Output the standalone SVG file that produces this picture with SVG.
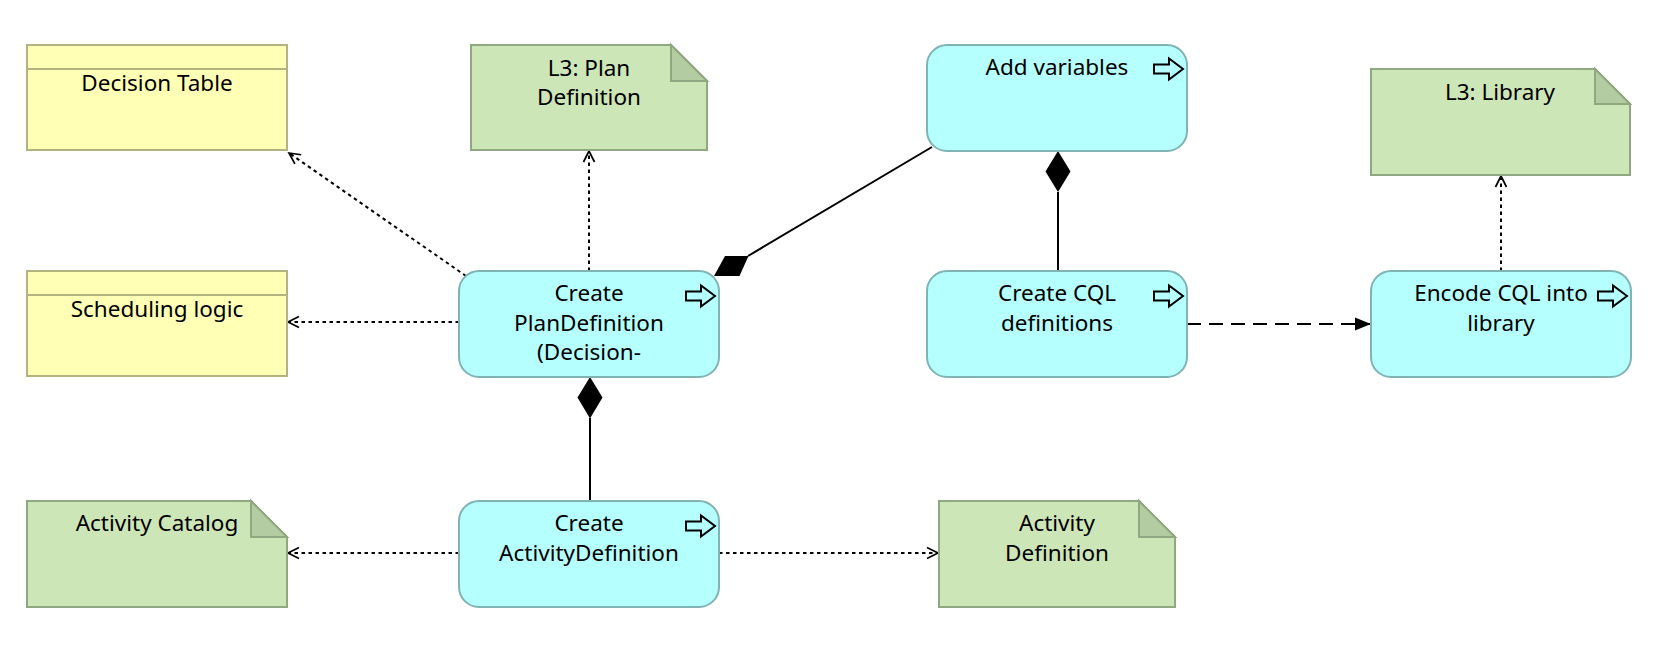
<svg xmlns="http://www.w3.org/2000/svg" width="1674" height="646" viewBox="0 0 1674 646">
<defs>
<style>
.proc{fill:#B5FFFF;stroke:#80B3B3;stroke-width:2}
.note{fill:#CCE6B8;stroke:#8FA87F;stroke-width:2}
.fold{fill:#B3CCA1;stroke:#8FA87F;stroke-width:2}
.obj{fill:#FFFFB5;stroke:#B3B37F;stroke-width:2}
.icon{fill:none;stroke:#000;stroke-width:2}
text{font-family:"Noto Sans","Open Sans","DejaVu Sans",sans-serif;font-size:22.5px;fill:#000;text-anchor:middle}
.dot{fill:none;stroke:#000;stroke-width:2;stroke-dasharray:3.5 3.5}
.dash{fill:none;stroke:#000;stroke-width:2;stroke-dasharray:14 8}
.solid{fill:none;stroke:#000;stroke-width:2}
.dia{fill:#000;stroke:none}
</style>
<marker id="open" markerUnits="userSpaceOnUse" markerWidth="16" markerHeight="16" viewBox="-12 -8 14 16" refX="0" refY="0" orient="auto">
<path d="M-11,-5.5 L0,0 L-11,5.5" fill="none" stroke="#000" stroke-width="1.7"/>
</marker>
<marker id="filled" markerUnits="userSpaceOnUse" markerWidth="20" markerHeight="16" viewBox="-17 -8 18 16" refX="0" refY="0" orient="auto">
<path d="M-16,-6.5 L0,0 L-16,6.5 Z" fill="#000"/>
</marker>
<path id="runicon" d="M0,-4.5 L15,-4.5 L15,-10.5 L29,0 L15,10.5 L15,4.5 L0,4.5 Z"/>
</defs>

<g id="connectors">
<line class="dot" x1="466" y1="276" x2="289" y2="153" marker-end="url(#open)"/>
<line class="dot" x1="589" y1="271" x2="589" y2="151" marker-end="url(#open)"/>
<line class="dot" x1="459" y1="322" x2="288" y2="322" marker-end="url(#open)"/>
<line class="solid" x1="932" y1="147" x2="748" y2="256"/>
<polygon class="dia" points="748.5,256 725,256 714,276 739.5,276"/>
<line class="solid" x1="1058" y1="271" x2="1058" y2="192"/>
<polygon class="dia" points="1058,151 1070.5,171.5 1058,192 1045.5,171.5"/>
<line class="solid" x1="590" y1="501" x2="590" y2="418"/>
<polygon class="dia" points="590,377 602.5,397.5 590,418.5 577.5,397.5"/>
<line class="dot" x1="459" y1="553" x2="288" y2="553" marker-end="url(#open)"/>
<line class="dot" x1="719" y1="553" x2="938" y2="553" marker-end="url(#open)"/>
<line class="dash" x1="1187" y1="324" x2="1371" y2="324" marker-end="url(#filled)"/>
<line class="dot" x1="1501" y1="271" x2="1501" y2="176" marker-end="url(#open)"/>
</g>

<g id="decision-table">
<rect class="obj" x="27" y="45" width="260" height="105"/>
<line x1="27" y1="69" x2="287" y2="69" stroke="#B3B37F" stroke-width="2"/>
<text x="157" y="91">Decision Table</text>
</g>

<g id="scheduling-logic">
<rect class="obj" x="27" y="271" width="260" height="105"/>
<line x1="27" y1="295" x2="287" y2="295" stroke="#B3B37F" stroke-width="2"/>
<text x="157" y="317">Scheduling logic</text>
</g>

<g id="l3-plan-definition">
<path class="note" d="M471,45 H671 L707,81 V150 H471 Z"/>
<path class="fold" d="M671,45 V81 H707 Z"/>
<text x="589" y="76">L3: Plan</text>
<text x="589" y="105">Definition</text>
</g>

<g id="add-variables">
<rect class="proc" x="927" y="45" width="260" height="106" rx="20"/>
<use href="#runicon" class="icon" x="1154" y="69"/>
<text x="1057" y="75">Add variables</text>
</g>

<g id="l3-library">
<path class="note" d="M1371,69 H1595 L1630,104 V175 H1371 Z"/>
<path class="fold" d="M1595,69 V104 H1630 Z"/>
<text x="1500" y="100">L3: Library</text>
</g>

<g id="create-plandefinition">
<rect class="proc" x="459" y="271" width="260" height="106" rx="20"/>
<use href="#runicon" class="icon" x="686" y="296"/>
<text x="589" y="301">Create</text>
<text x="589" y="331">PlanDefinition</text>
<text x="589" y="360">(Decision-</text>
</g>

<g id="create-cql-definitions">
<rect class="proc" x="927" y="271" width="260" height="106" rx="20"/>
<use href="#runicon" class="icon" x="1154" y="296"/>
<text x="1057" y="301">Create CQL</text>
<text x="1057" y="331">definitions</text>
</g>

<g id="encode-cql">
<rect class="proc" x="1371" y="271" width="260" height="106" rx="20"/>
<use href="#runicon" class="icon" x="1598" y="296"/>
<text x="1501" y="301">Encode CQL into</text>
<text x="1501" y="331">library</text>
</g>

<g id="activity-catalog">
<path class="note" d="M27,501 H251 L287,537 V607 H27 Z"/>
<path class="fold" d="M251,501 V537 H287 Z"/>
<text x="157" y="531">Activity Catalog</text>
</g>

<g id="create-activitydefinition">
<rect class="proc" x="459" y="501" width="260" height="106" rx="20"/>
<use href="#runicon" class="icon" x="686" y="526"/>
<text x="589" y="531">Create</text>
<text x="589" y="561">ActivityDefinition</text>
</g>

<g id="activity-definition">
<path class="note" d="M939,501 H1139 L1175,537 V607 H939 Z"/>
<path class="fold" d="M1139,501 V537 H1175 Z"/>
<text x="1057" y="531">Activity</text>
<text x="1057" y="561">Definition</text>
</g>
</svg>
